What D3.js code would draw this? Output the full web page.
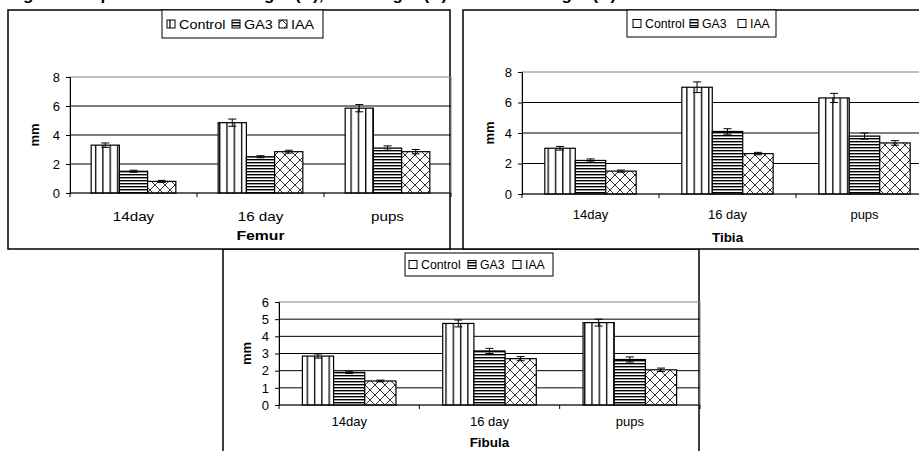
<!DOCTYPE html>
<html>
<head>
<meta charset="utf-8">
<script src="https://cdn.jsdelivr.net/npm/d3@7"></script>
<style>
body { margin: 0; background: #fff; }
svg { display: block; font-family: "Liberation Sans", Arial, sans-serif; }
</style>
</head>
<body>
<script>
var categories = ["14day", "16 day", "pups"];
var series = ["Control", "GA3", "IAA"];

// mean lengths (mm), one array per treatment, in category order
var femurControl = [3.3, 4.85, 5.85];
var femurGA3 = [1.5, 2.5, 3.1];
var femurIAA = [0.8, 2.85, 2.85];
var femurErr = [[0.15, 0.25, 0.25], [0.07, 0.07, 0.15], [0.07, 0.1, 0.15]];

var tibiaControl = [3.0, 7.0, 6.3];
var tibiaGA3 = [2.2, 4.1, 3.8];
var tibiaIAA = [1.5, 2.65, 3.35];
var tibiaErr = [[0.12, 0.35, 0.3], [0.1, 0.18, 0.2], [0.07, 0.08, 0.15]];

var fibulaControl = [2.85, 4.75, 4.8];
var fibulaGA3 = [1.9, 3.15, 2.65];
var fibulaIAA = [1.4, 2.7, 2.05];
var fibulaErr = [[0.12, 0.2, 0.2], [0.07, 0.15, 0.15], [0.05, 0.12, 0.1]];

var femurTicks = [0, 2, 4, 6, 8];
var tibiaTicks = [0, 2, 4, 6, 8];
var fibulaTicks = [0, 1, 2, 3, 4, 5, 6];

var width = 919, height = 451;

var svg = d3.select("body").append("svg")
  .attr("width", width)
  .attr("height", height);

// fill patterns like the old excel ones
var defs = svg.append("defs");

var pv = defs.append("pattern").attr("id", "vert")
  .attr("patternUnits", "userSpaceOnUse").attr("width", 7.3).attr("height", 10);
pv.append("rect").attr("width", 7.3).attr("height", 10).attr("fill", "#fff");
pv.append("line").attr("x1", 0.7).attr("x2", 0.7).attr("y1", 0).attr("y2", 10)
  .attr("stroke", "#000").attr("stroke-width", 1.3);

var ph = defs.append("pattern").attr("id", "horiz")
  .attr("patternUnits", "userSpaceOnUse").attr("width", 10).attr("height", 3);
ph.append("rect").attr("width", 10).attr("height", 3).attr("fill", "#fff");
ph.append("line").attr("x1", 0).attr("x2", 10).attr("y1", 0.7).attr("y2", 0.7)
  .attr("stroke", "#000").attr("stroke-width", 1.4);

var pc = defs.append("pattern").attr("id", "cross")
  .attr("patternUnits", "userSpaceOnUse").attr("width", 10).attr("height", 10);
pc.append("rect").attr("width", 10).attr("height", 10).attr("fill", "#fff");
pc.append("path").attr("d", "M0,0L10,10M10,0L0,10")
  .attr("stroke", "#333").attr("stroke-width", 1);

var fills = ["url(#vert)", "url(#horiz)", "url(#cross)"];

// title, only the bottom of it is on the picture
svg.append("text")
  .attr("x", 8).attr("y", 0)
  .attr("font-size", 17).attr("font-weight", "bold")
  .text("Fig. 2: Comparison of femur length (A), tibia length (B) and fibula length (C)");

// text that may be stretched sideways (the femur chart was pasted wider)
function label(sel, x, y, str, sx, size, bold, anchor) {
  return sel.append("text")
    .attr("transform", "translate(" + x + "," + y + ") scale(" + sx + ",1)")
    .attr("text-anchor", anchor || "start")
    .attr("font-size", size)
    .attr("font-weight", bold ? "bold" : null)
    .text(str);
}

function drawPanel(p) {
  var g = svg.append("g");

  g.append("rect")
    .attr("x", p.box[0]).attr("y", p.box[1])
    .attr("width", p.box[2]).attr("height", p.box[3])
    .attr("fill", "#fff").attr("stroke", "#000").attr("stroke-width", 1.5);

  var x = d3.scaleBand().domain(categories).range([p.plot[0], p.plot[1]]).padding(0);
  var xs = d3.scaleBand().domain(series).range([0, x.bandwidth()]).paddingInner(0).paddingOuter(0.75);
  var y = d3.scaleLinear().domain([0, d3.max(p.ticks)]).range([p.plot[3], p.plot[2]]);

  // plot area frame (grey) + gridlines
  g.append("rect")
    .attr("x", p.plot[0]).attr("y", y(d3.max(p.ticks)))
    .attr("width", p.plot[1] - p.plot[0]).attr("height", y(0) - y(d3.max(p.ticks)))
    .attr("fill", "none").attr("stroke", "#808080").attr("stroke-width", 1);

  g.selectAll(".grid")
    .data(p.ticks.filter(function (t) { return t > 0 && t < d3.max(p.ticks); }))
    .enter().append("line")
    .attr("x1", p.plot[0]).attr("x2", p.plot[1])
    .attr("y1", function (d) { return y(d); })
    .attr("y2", function (d) { return y(d); })
    .attr("stroke", "#000").attr("stroke-width", 1);

  // bars
  var rows = [];
  p.values.forEach(function (vals, si) {
    vals.forEach(function (v, ci) {
      rows.push({s: series[si], si: si, c: categories[ci], v: v, e: p.errs[si][ci]});
    });
  });

  g.selectAll(".bar")
    .data(rows)
    .enter().append("rect")
    .attr("x", function (d) { return x(d.c) + xs(d.s); })
    .attr("y", function (d) { return y(d.v); })
    .attr("width", xs.bandwidth())
    .attr("height", function (d) { return y(0) - y(d.v); })
    .attr("fill", function (d) { return fills[d.si]; })
    .attr("stroke", "#000").attr("stroke-width", 1.2);

  // error bars
  var eb = g.selectAll(".err").data(rows).enter().append("g")
    .attr("stroke", "#000").attr("stroke-width", 1);
  eb.append("line")
    .attr("x1", function (d) { return x(d.c) + xs(d.s) + xs.bandwidth() / 2; })
    .attr("x2", function (d) { return x(d.c) + xs(d.s) + xs.bandwidth() / 2; })
    .attr("y1", function (d) { return y(d.v - d.e); })
    .attr("y2", function (d) { return y(d.v + d.e); });
  eb.selectAll("line.cap")
    .data(function (d) { return [d.v - d.e, d.v + d.e].map(function (t) { return {d: d, t: t}; }); })
    .enter().append("line").attr("class", "cap")
    .attr("x1", function (o) { return x(o.d.c) + xs(o.d.s) + xs.bandwidth() / 2 - 4; })
    .attr("x2", function (o) { return x(o.d.c) + xs(o.d.s) + xs.bandwidth() / 2 + 4; })
    .attr("y1", function (o) { return y(o.t); })
    .attr("y2", function (o) { return y(o.t); });

  // axes
  var ya = g.append("g")
    .attr("transform", "translate(" + p.plot[0] + ",0)")
    .call(d3.axisLeft(y).tickValues(p.ticks).tickSize(4).tickPadding(6).tickFormat(d3.format("d")));
  ya.selectAll("text").attr("font-size", 13).attr("font-family", "Liberation Sans, Arial, sans-serif").attr("fill", "#000");
  ya.select(".domain").attr("stroke", "#000");

  var xa = g.append("g")
    .attr("transform", "translate(0," + y(0) + ")");
  xa.append("line").attr("x1", p.plot[0]).attr("x2", p.plot[1]).attr("stroke", "#000");
  xa.selectAll(".tk")
    .data(categories.map(function (c) { return x(c); }).concat([p.plot[1]]))
    .enter().append("line")
    .attr("x1", function (d) { return d; }).attr("x2", function (d) { return d; })
    .attr("y1", 0).attr("y2", 4).attr("stroke", "#000");
  categories.forEach(function (c) {
    label(g, x(c) + x.bandwidth() / 2, p.catY, c, p.sx, 13, false, "middle");
  });

  g.append("text")
    .attr("transform", "translate(" + p.mmX + "," + (y(0) + y(d3.max(p.ticks))) / 2 + ") rotate(-90)")
    .attr("text-anchor", "middle").attr("font-size", 13).attr("font-weight", "bold")
    .text("mm");

  label(g, p.plot[0] + 1.5 * x.bandwidth(), p.titleY, p.name, p.sx, 13.5, true, "middle");

  // legend
  var lg = g.append("g").attr("transform", "translate(" + p.legend[0] + "," + p.legend[1] + ")");
  lg.append("rect").attr("width", p.legend[2]).attr("height", p.legend[3])
    .attr("fill", "#fff").attr("stroke", "#000").attr("stroke-width", 1);
  series.forEach(function (s, i) {
    lg.append("rect")
      .attr("x", p.legendX[i]).attr("y", p.legend[3] / 2 - 4).attr("width", 8).attr("height", 8)
      .attr("fill", p.plainIcons && i !== 1 ? "#fff" : fills[i])
      .attr("stroke", "#000").attr("stroke-width", 1);
    label(lg, p.legendX[i] + p.textGap, p.legend[3] / 2 + 4.5, s, p.sx, 12.3, false);
  });
}

drawPanel({
  name: "Fibula",
  box: [223, 249, 476, 220],
  plot: [279, 700, 302, 405],
  ticks: fibulaTicks,
  values: [fibulaControl, fibulaGA3, fibulaIAA],
  errs: fibulaErr,
  sx: 1,
  mmX: 251, catY: 426, titleY: 447,
  legend: [405, 253, 148, 23], legendX: [4, 63, 108], textGap: 12, plainIcons: true
});

drawPanel({
  name: "Femur",
  box: [8, 10, 442, 239],
  plot: [70, 451, 77, 193],
  ticks: femurTicks,
  values: [femurControl, femurGA3, femurIAA],
  errs: femurErr,
  sx: 1.17,
  mmX: 39, catY: 221, titleY: 240,
  legend: [162, 10, 161, 28], legendX: [5, 70, 117], textGap: 12, plainIcons: false
});

drawPanel({
  name: "Tibia",
  box: [463, 10, 470, 239],
  plot: [522, 933, 72, 194],
  ticks: tibiaTicks,
  values: [tibiaControl, tibiaGA3, tibiaIAA],
  errs: tibiaErr,
  sx: 1,
  mmX: 494, catY: 219, titleY: 242,
  legend: [627, 10, 149, 27], legendX: [6, 63, 111], textGap: 12, plainIcons: true
});
</script>
</body>
</html>
